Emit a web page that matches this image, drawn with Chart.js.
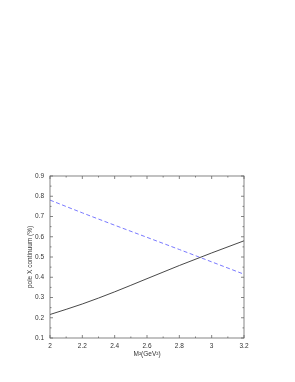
<!DOCTYPE html>
<html><head><meta charset="utf-8">
<script src="https://cdn.jsdelivr.net/npm/chart.js@4/dist/chart.umd.min.js"></script>
<style>html,body{margin:0;padding:0;background:#fff}canvas{display:block}</style>
</head><body>
<canvas id="c" width="295" height="382"></canvas>
<script>
const massSq = [2.0, 2.2, 2.4, 2.6, 2.8, 3.0, 3.2];
const poleSeries = [0.216, 0.268, 0.328, 0.393, 0.458, 0.52, 0.58];
const continuumSeries = [0.781, 0.718, 0.657, 0.597, 0.537, 0.476, 0.415];
const xTickLabels = ['2','2.2','2.4','2.6','2.8','3','3.2'];
const yTickLabels = ['0.1','0.2','0.3','0.4','0.5','0.6','0.7','0.8','0.9'];
const xTitle = 'M\u00B2(GeV\u00B2)';
const yTitle = 'pole X continuum (%)';

const FONT = '"Liberation Sans", Arial, sans-serif';
const boxPlugin = {
  id: 'box',
  afterDatasetsDraw(chart) {
    const {ctx, chartArea: a, scales} = chart;
    ctx.save();
    ctx.strokeStyle = '#666';
    ctx.lineWidth = 0.8;
    ctx.strokeRect(a.left, a.top, a.right - a.left, a.bottom - a.top);
    ctx.beginPath();
    for (let v = 2; v <= 3.2001; v += 0.1) {
      const x = scales.x.getPixelForValue(v);
      const major = Math.abs(Math.round(v * 5) - v * 5) < 1e-6;
      const L = major ? 3 : 1.5;
      ctx.moveTo(x, a.bottom); ctx.lineTo(x, a.bottom - L);
      ctx.moveTo(x, a.top); ctx.lineTo(x, a.top + L);
    }
    for (let v = 0.1; v <= 0.9001; v += 0.05) {
      const y = scales.y.getPixelForValue(v);
      const major = Math.abs(Math.round(v * 10) - v * 10) < 1e-6;
      const L = major ? 3 : 1.5;
      ctx.moveTo(a.left, y); ctx.lineTo(a.left + L, y);
      ctx.moveTo(a.right, y); ctx.lineTo(a.right - L, y);
    }
    ctx.stroke();
    ctx.fillStyle = '#333';
    ctx.font = '6.5px ' + FONT;
    ctx.textAlign = 'center';
    ctx.textBaseline = 'middle';
    ctx.fillText(xTitle, (a.left + a.right) / 2, 354);
    ctx.save();
    ctx.translate(30, (a.top + a.bottom) / 2);
    ctx.rotate(-Math.PI / 2);
    ctx.fillText(yTitle, 0, 0);
    ctx.restore();
    ctx.restore();
  }
};

new Chart(document.getElementById('c'), {
  type: 'line',
  data: {
    datasets: [
      { label: 'pole', data: massSq.map((x, i) => ({x, y: poleSeries[i]})),
        borderColor: '#333333', borderWidth: 0.9, pointRadius: 0, cubicInterpolationMode: 'monotone', fill: false },
      { label: 'continuum', data: massSq.map((x, i) => ({x, y: continuumSeries[i]})),
        borderColor: '#6a6aff', borderWidth: 0.9, borderDash: [4, 2.5], pointRadius: 0, cubicInterpolationMode: 'monotone', fill: false }
    ]
  },
  options: {
    responsive: false, animation: false, devicePixelRatio: 1,
    layout: { padding: { top: 176, right: 51, left: 0, bottom: 0 } },
    plugins: { legend: { display: false }, tooltip: { enabled: false } },
    scales: {
      x: {
        type: 'linear', min: 2, max: 3.2,
        grid: { display: false, drawTicks: false },
        border: { display: false },
        ticks: { stepSize: 0.2, padding: 4, color: '#333', font: { size: 6.5, family: FONT },
          maxRotation: 0, callback: (v) => { const i = Math.round((v - 2) / 0.2); return xTickLabels[i]; } },
        afterFit: (s) => { s.height = 44; }
      },
      y: {
        min: 0.1, max: 0.9,
        grid: { display: false, drawTicks: false },
        border: { display: false },
        ticks: { stepSize: 0.1, padding: 6, color: '#333', font: { size: 6.5, family: FONT },
          callback: (v) => { const i = Math.round((v - 0.1) / 0.1); return yTickLabels[i]; } },
        afterFit: (s) => { s.width = 50; }
      }
    }
  },
  plugins: [boxPlugin]
});
</script>
</body></html>
